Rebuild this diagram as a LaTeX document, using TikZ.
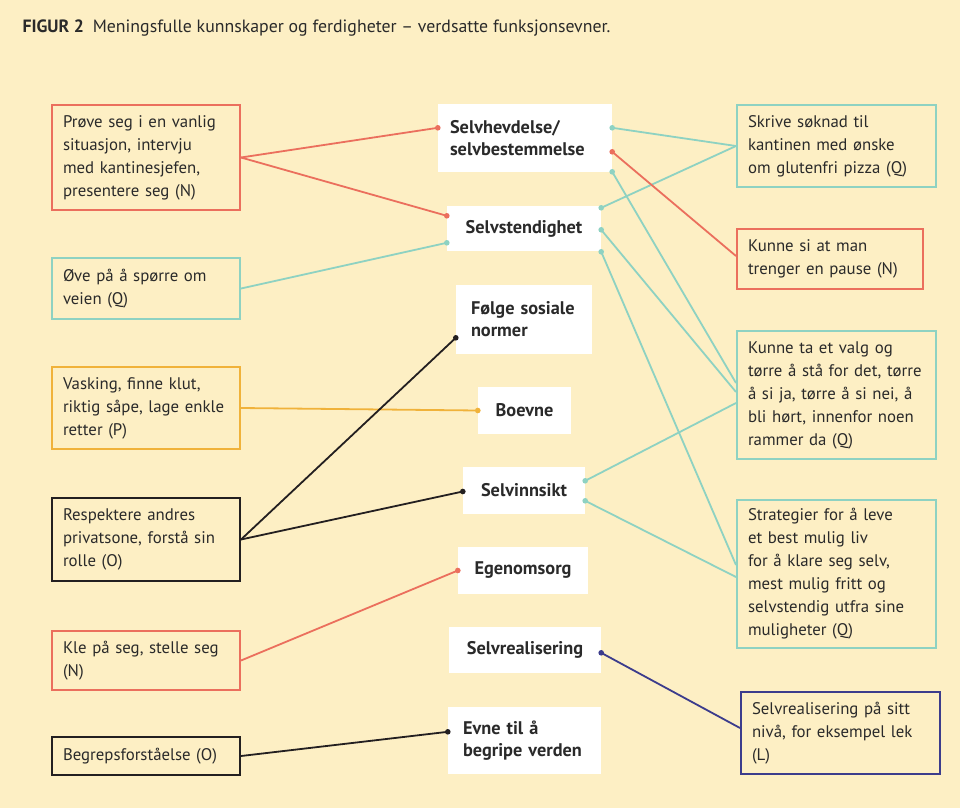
\documentclass[tikz,border=0pt]{standalone}
\usepackage{fontspec}
\setmainfont{PT Sans}
\usetikzlibrary{calc}
\definecolor{bg}{HTML}{FDEFC4}
\definecolor{cred}{HTML}{EB6F5D}
\definecolor{cteal}{HTML}{8ED2C2}
\definecolor{corange}{HTML}{F0B23A}
\definecolor{cdark}{HTML}{231F20}
\definecolor{cnavy}{HTML}{3C3C8C}
\definecolor{txt}{HTML}{2A2A2A}
\begin{document}
\begin{tikzpicture}[x=1pt,y=-1pt,
  box/.style={draw, line width=2pt, align=left, inner ysep=0pt, inner xsep=11pt,
    font=\fontsize{16.8}{23}\selectfont, text=txt},
  lbox/.style={box, text width=166pt},
  rbox/.style={box, text width=177pt},
  mid/.style={fill=white, inner ysep=0pt, font=\bfseries\fontsize{18.3}{22}\selectfont, text=txt},
  con/.style={line width=1.8pt},
  dotr/.style={radius=2.8pt}]
\fill[bg] (0,0) rectangle (960,808);
\useasboundingbox (0,0) rectangle (960,808);

\node[anchor=west, text=txt, font=\fontsize{17.8}{20}\selectfont] (title) at (19,28)
  {\textbf{FIGUR 2}\enspace Meningsfulle kunnskaper og ferdigheter -- verdsatte funksjonsevner.};

% left boxes
\node[lbox, draw=cred, minimum height=105pt] (prove) at (146,157.5)
  {Prøve seg i en vanlig\\situasjon, intervju\\med kantinesjefen,\\presentere seg (N)};
\node[lbox, draw=cteal, minimum height=61pt] (ove) at (146,288.5)
  {Øve på å spørre om\\veien (Q)};
\node[lbox, draw=corange, minimum height=82pt] (vask) at (146,408)
  {Vasking, finne klut,\\riktig såpe, lage enkle\\retter (P)};
\node[lbox, draw=cdark, minimum height=83pt] (resp) at (146,539.5)
  {Respektere andres\\privatsone, forstå sin\\rolle (O)};
\node[lbox, draw=cred, minimum height=59pt] (kle) at (146,660.5)
  {Kle på seg, stelle seg\\(N)};
\node[lbox, draw=cdark, minimum height=38pt] (begr) at (146,756)
  {Begrepsforståelse (O)};

% middle nodes
\node[mid, align=left, text width=150pt, inner xsep=12pt, minimum height=68pt] (selvh) at (525,138)
  {Selvhevdelse/\\selvbestemmelse};
\node[mid, align=center, minimum width=154pt, minimum height=45pt] (selvst) at (524,228.5)
  {Selvstendighet};
\node[mid, align=left, text width=106pt, inner xsep=15pt, minimum height=69pt] (folge) at (524,319.5)
  {Følge sosiale\\normer};
\node[mid, align=center, minimum width=93pt, minimum height=47pt] (boevne) at (524.5,410.5)
  {Boevne};
\node[mid, align=center, minimum width=122pt, minimum height=47pt] (selvinn) at (524,490.5)
  {Selvinnsikt};
\node[mid, align=center, minimum width=130pt, minimum height=47pt] (egen) at (523,570.5)
  {Egenomsorg};
\node[mid, align=center, minimum width=152pt, minimum height=46pt] (selvreal) at (525,650)
  {Selvrealisering};
\node[mid, align=left, text width=123pt, inner xsep=15pt, minimum height=67pt] (evne) at (524.5,740.5)
  {Evne til å\\begripe verden};

% right boxes
\node[rbox, draw=cteal, minimum height=82pt] (skrive) at (836.5,146)
  {Skrive søknad til\\kantinen med ønske\\om glutenfri pizza (Q)};
\node[box, draw=cred, text width=164pt, minimum height=60pt] (kunnesi) at (830,259)
  {Kunne si at man\\trenger en pause (N)};
\node[rbox, draw=cteal, minimum height=128pt] (kunneta) at (836.5,395)
  {Kunne ta et valg og\\tørre å stå for det, tørre\\å si ja, tørre å si nei, å\\bli hørt, innenfor noen\\rammer da (Q)};
\node[rbox, draw=cteal, minimum height=148pt] (strat) at (836.5,574)
  {Strategier for å leve\\et best mulig liv\\for å klare seg selv,\\mest mulig fritt og\\selvstendig utfra sine\\muligheter (Q)};
\node[rbox, draw=cnavy, minimum height=82pt] (nivaa) at (840.5,733)
  {Selvrealisering på sitt\\nivå, for eksempel lek\\(L)};

% connection points on the middle nodes
\coordinate (hvL) at ($(selvh.north west)+(0,24)$);
\coordinate (hvR1) at ($(selvh.north east)+(0,24)$);
\coordinate (hvR2) at ($(selvh.north east)+(0,48)$);
\coordinate (hvR3) at ($(selvh.north east)+(0,68)$);
\coordinate (stL1) at ($(selvst.north west)+(0,10)$);
\coordinate (stL2) at ($(selvst.north west)+(0,37)$);
\coordinate (stR1) at ($(selvst.north east)+(0,2)$);
\coordinate (stR2) at ($(selvst.north east)+(0,24)$);
\coordinate (stR3) at ($(selvst.north east)+(0,46)$);
\coordinate (fsL) at ($(folge.north west)+(0,53)$);
\coordinate (boL) at (boevne.west);
\coordinate (siL) at ($(selvinn.west)+(0,1)$);
\coordinate (siR1) at ($(selvinn.north east)+(0,14)$);
\coordinate (siR2) at ($(selvinn.north east)+(0,34)$);
\coordinate (egL) at (egen.west);
\coordinate (srR) at ($(selvreal.north east)+(0,26)$);
\coordinate (evL) at ($(evne.north west)+(0,25)$);

% left connectors
\draw[con, cred] (prove.east) -- (hvL);
\draw[con, cred] (prove.east) -- (stL1);
\draw[con, cteal] (ove.east) -- (stL2);
\draw[con, corange] (vask.east) -- (boL);
\draw[con, cdark] (resp.east) -- (fsL);
\draw[con, cdark] (resp.east) -- (siL);
\draw[con, cred] (kle.east) -- (egL);
\draw[con, cdark] (begr.east) -- (evL);

% right connectors
\draw[con, cteal] (hvR1) -- (skrive.west);
\draw[con, cteal] (stR1) -- (skrive.west);
\draw[con, cred] (hvR2) -- ($(kunnesi.west)+(0,-3)$);
\draw[con, cteal] (hvR3) -- ($(kunneta.west)+(0,-12)$);
\draw[con, cteal] (stR2) -- ($(kunneta.west)+(0,-3)$);
\draw[con, cteal] (stR3) -- ($(strat.west)+(0,-9)$);
\draw[con, cteal] (siR1) -- ($(kunneta.west)+(0,8)$);
\draw[con, cteal] (siR2) -- ($(strat.west)+(0,3)$);
\draw[con, cnavy] (srR) -- ($(nivaa.west)+(0,-5)$);

% dots
\fill[cred] (hvL) circle[dotr];
\fill[cred] (stL1) circle[dotr];
\fill[cteal] (stL2) circle[dotr];
\fill[corange] (boL) circle[dotr];
\fill[cdark] (fsL) circle[dotr];
\fill[cdark] (siL) circle[dotr];
\fill[cred] (egL) circle[dotr];
\fill[cdark] (evL) circle[dotr];
\fill[cteal] (hvR1) circle[dotr];
\fill[cred] (hvR2) circle[dotr];
\fill[cteal] (hvR3) circle[dotr];
\fill[cteal] (stR1) circle[dotr];
\fill[cteal] (stR2) circle[dotr];
\fill[cteal] (stR3) circle[dotr];
\fill[cteal] (siR1) circle[dotr];
\fill[cteal] (siR2) circle[dotr];
\fill[cnavy] (srR) circle[dotr];
\end{tikzpicture}
\end{document}
